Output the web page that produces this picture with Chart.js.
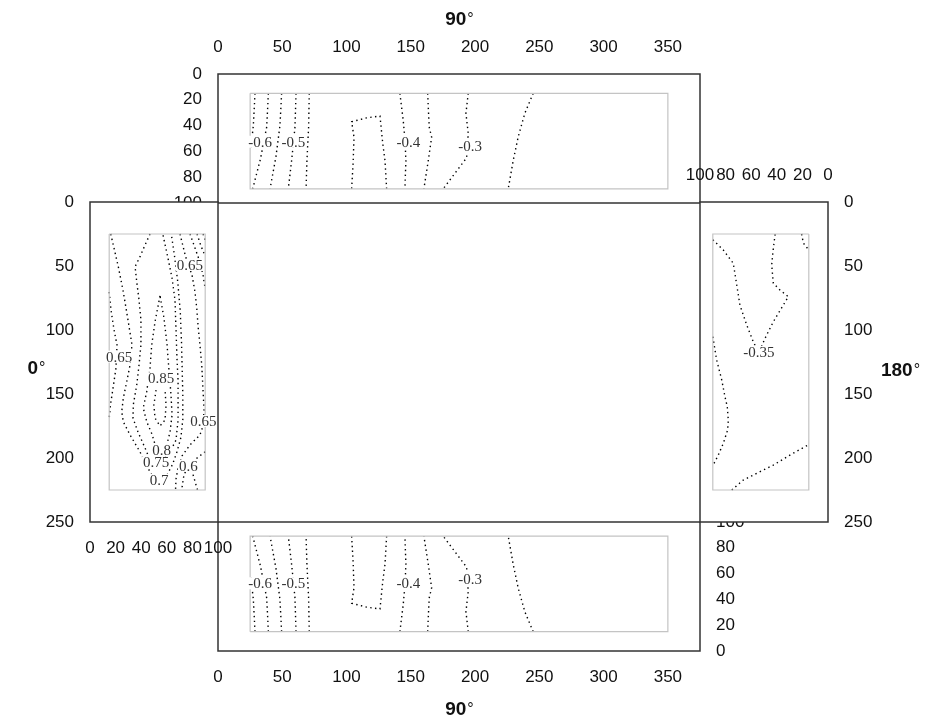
<!DOCTYPE html>
<html>
<head>
<meta charset="utf-8">
<script src="https://cdn.jsdelivr.net/npm/chart.js@4.4.0/dist/chart.umd.min.js"></script>
<style>
  body { margin: 0; background: #fff; }
  #wrap { position: relative; width: 930px; height: 724px; }
  #wrap canvas { position: absolute; left: 0; top: 0; }
</style>
</head>
<body>
<div id="wrap">
  <canvas id="topFace" width="930" height="724"></canvas>
  <canvas id="bottomFace" width="930" height="724"></canvas>
  <canvas id="windFace" width="930" height="724"></canvas>
  <canvas id="leeFace" width="930" height="724"></canvas>
</div>
<script>
// tick labels
const longTicks = [0, 50, 100, 150, 200, 250, 300, 350];
const depthTicks = [0, 20, 40, 60, 80, 100];
const sideTicks = [0, 50, 100, 150, 200, 250];

// 90 deg faces (same field on top and bottom, x = along face, y = height)
const faceRect = [[25, 15], [350, 15], [350, 89], [25, 89], [25, 15]];
const faceLines = [
  [[28.8, 15], [27.5, 40], [25.5, 58]],
  [[39.2, 15], [37.9, 41], [33, 66], [27, 89]],
  [[49.5, 15], [48.2, 40], [45.1, 64], [40.5, 89]],
  [[60.7, 15], [59.9, 41], [57.3, 67], [54.7, 89]],
  [[71, 15], [70.5, 41], [69.2, 67], [68.5, 89]],
  [[104, 89], [105.2, 67], [105.8, 49], [104, 37], [115.6, 34], [126, 32.6], [128.1, 53], [129.9, 67], [131.2, 89]],
  [[141.5, 15], [144.1, 36], [145.4, 50], [146.2, 67], [145.4, 89]],
  [[163.1, 15], [164.3, 41], [166.2, 49], [163.6, 67], [160.2, 89]],
  [[194.7, 15], [192.9, 30.5], [194.7, 46], [193.4, 65], [184.3, 77], [175.2, 89]],
  [[245.2, 15], [238.7, 30.5], [233.6, 48.6], [229.7, 67], [225.8, 89]]
];
const faceLabels = [['-0.6', 32.7, 52.5], ['-0.5', 58.6, 52.5], ['-0.4', 148.1, 52.5], ['-0.3', 196.1, 55.8]];

// 0 deg face (windward)
const windRect = [[15, 25], [90, 25], [90, 225], [15, 225], [15, 25]];
const windLines = [
  [[15, 70.3], [16.4, 84.4], [18.8, 100], [21.1, 111.7], [20.3, 129.7], [18, 145.3], [16, 158.6], [15, 168.8]],
  [[16.2, 25], [22.1, 50.5], [26, 70.1], [29.9, 93.5], [32.8, 111.7], [31.3, 127.3], [28.7, 140.4], [26, 153.4], [24.8, 163.8], [26, 171.6], [31.3, 182], [39.1, 195.3], [46.9, 210.9], [49.2, 214.8], [59.4, 214.8], [64.5, 205], [68, 195], [71, 184], [72.5, 170], [72.5, 150], [72, 130], [71.5, 110], [70.5, 85], [68.5, 62], [66, 42], [63.5, 25]],
  [[46.9, 25], [43, 33.6], [39.1, 42.7], [35.2, 50.5], [36.5, 62.3], [38.3, 76.6], [39.8, 92.2], [39.8, 111.7], [38.3, 127.3], [36.5, 143], [33.8, 158.6], [33.6, 168.8], [37.5, 179.7], [43, 192.2], [46.9, 201.6], [57, 201.6], [62.5, 195.3], [67.2, 185.9], [68.8, 170.3], [68.8, 154.7], [68.8, 139.1], [68, 123.4], [67.2, 100], [66.4, 76.6], [64.1, 59.4], [60.9, 43.8], [57.3, 27.1], [57, 25]],
  [[54.7, 73.4], [50.8, 93.5], [48.2, 111.7], [46.9, 129.7], [44.3, 148.2], [41.6, 160.9], [44.3, 171.6], [48.4, 181.3], [51.6, 192.2], [59.4, 192.2], [62.5, 179.7], [64.1, 166.4], [63.3, 150.8], [61.7, 131.3], [60.2, 111.7], [57.8, 90.6], [54.7, 73.4]],
  [[51.6, 146.9], [49.9, 158.6], [50.8, 168.8], [54.7, 175], [58.6, 170.3], [59.4, 158.6], [58.6, 146.9]],
  [[70.3, 25], [73.4, 37.5], [75, 43.8], [79.7, 57], [82, 70.1], [83.4, 83], [84.6, 98.7], [85.9, 111.7], [87.3, 127.3], [88.3, 146.9], [89.1, 162.5], [88.3, 175], [85.9, 182], [78.1, 189.8], [71.9, 198.4], [68.8, 207.8], [67.2, 216.4], [66.8, 225]],
  [[90, 195.1], [83.4, 200.2], [76.8, 206], [73.4, 213.3], [71.6, 225]],
  [[80.5, 213], [83.4, 223], [84, 225]],
  [[78.1, 25], [82, 35.9], [85.9, 46.9], [88.3, 57], [90, 68]],
  [[83.6, 25], [86.7, 34.4], [90, 42.2]],
  [[88.3, 25], [90, 29.7]]
];
const windLabels = [['0.65', 78.1, 49.2], ['0.65', 22.8, 120.8], ['0.85', 55.5, 137.7], ['0.65', 88.5, 171.1],
  ['0.8', 56, 193.8], ['0.75', 51.6, 203.4], ['0.6', 76.8, 206], ['0.7', 54.1, 217.2]];

// 180 deg face (leeward)
const leeRect = [[15, 25], [90, 25], [90, 225], [15, 225], [15, 25]];
const leeLines = [
  [[90, 29.5], [81.8, 37.5], [74, 47.9], [71.3, 64.8], [68.8, 80.5], [63.5, 96.1], [58.4, 109.1], [56, 114], [52, 113], [49.2, 106.5], [42.7, 93.5], [34.9, 80.5], [31, 74], [37.5, 68.8], [42.7, 63.5], [44, 49.2], [42.7, 36.2], [41.3, 25]],
  [[20.6, 25], [19.3, 32], [15, 37.5]],
  [[90, 105.2], [87, 123.4], [83, 139.1], [80.5, 152.1], [78.7, 159.9], [77.9, 170.3], [78.4, 178.1], [81.8, 188.5], [85.7, 197.7], [90, 206]],
  [[75.2, 225], [66.2, 217.2], [55.7, 212], [42.7, 205.5], [29.7, 197.7], [15, 189.5]]
];
const leeLabels = [['-0.35', 54, 117]];

const tickFont = { family: "'Liberation Sans', Arial, sans-serif", size: 17 };
const toPts = arr => arr.map(([x, y]) => ({ x, y }));

function axis(position, min, max, ticks, reverse) {
  return {
    type: 'linear', position, min, max, reverse: !!reverse,
    grid: { display: false, drawTicks: false },
    border: { display: false },
    ticks: { padding: 16, color: '#111', font: tickFont, autoSkip: false, maxRotation: 0, minRotation: 0 },
    afterBuildTicks: s => { s.ticks = ticks.map(v => ({ value: v })); },
    afterFit: s => { if (s.isHorizontal()) s.height = 50; else s.width = 50; }
  };
}

function drawTitle(ctx, text, cx, cy) {
  ctx.font = "bold 19px 'Liberation Sans', Arial, sans-serif";
  const w1 = ctx.measureText(text).width;
  ctx.font = "16px 'Liberation Sans', Arial, sans-serif";
  const w2 = ctx.measureText('\u00b0').width;
  const x0 = cx - (w1 + w2) / 2;
  ctx.fillStyle = '#111';
  ctx.textAlign = 'left';
  ctx.textBaseline = 'alphabetic';
  ctx.font = "bold 19px 'Liberation Sans', Arial, sans-serif";
  ctx.fillText(text, x0, cy + 7);
  ctx.font = "16px 'Liberation Sans', Arial, sans-serif";
  ctx.fillText('\u00b0', x0 + w1 + 1, cy + 6);
}

const frame = {
  id: 'frame',
  beforeDraw(chart) {
    const { ctx, chartArea: a } = chart;
    ctx.save();
    ctx.fillStyle = '#fff';
    ctx.fillRect(a.left, a.top, a.right - a.left, a.bottom - a.top);
    ctx.restore();
  },
  afterDatasetsDraw(chart) {
    const o = chart.options.plugins.frame;
    const { ctx, chartArea: a, scales } = chart;
    ctx.save();
    ctx.font = "15px 'Liberation Serif', 'Times New Roman', serif";
    ctx.textAlign = 'center';
    ctx.textBaseline = 'middle';
    o.labels.forEach(([t, x, y]) => {
      const px = scales.x.getPixelForValue(x);
      const py = scales.y.getPixelForValue(y);
      const w = ctx.measureText(t).width;
      ctx.fillStyle = '#fff';
      ctx.fillRect(px - w / 2 - 1, py - 6, w + 2, 12);
      ctx.fillStyle = '#333';
      ctx.fillText(t, px, py + 1);
    });
    ctx.strokeStyle = '#333';
    ctx.lineWidth = 1.5;
    ctx.strokeRect(a.left, a.top, a.right - a.left, a.bottom - a.top);
    const cx = (a.left + a.right) / 2, cy = (a.top + a.bottom) / 2;
    if (o.title === 'top') drawTitle(ctx, '90', cx, a.top - 56);
    if (o.title === 'bottom') drawTitle(ctx, '90', cx, a.bottom + 57);
    if (o.title === 'left') drawTitle(ctx, '0', a.left - 54, cy + 5);
    if (o.title === 'right') drawTitle(ctx, '180', a.right + 72, cy + 7);
    ctx.restore();
  }
};

function makePanel(id, rect, lines, labels, title, padding, xScale, yScale) {
  const datasets = [{ data: toPts(rect), borderColor: '#c4c4c4', borderWidth: 1.2, borderDash: [] }]
    .concat(lines.map(l => ({ data: toPts(l), borderColor: '#000', borderWidth: 1.4, borderDash: [1.4, 3.4] })))
    .map(d => Object.assign(d, { showLine: true, pointRadius: 0, fill: false, tension: 0 }));
  return new Chart(document.getElementById(id), {
    type: 'scatter',
    data: { datasets },
    options: {
      responsive: false,
      animation: false,
      events: [],
      layout: { padding },
      plugins: { legend: { display: false }, tooltip: { enabled: false }, frame: { labels, title } },
      scales: { x: xScale, y: yScale }
    },
    plugins: [frame]
  });
}

makePanel('topFace', faceRect, faceLines, faceLabels, 'top',
  { left: 168, right: 230, top: 24, bottom: 521 },
  axis('top', 0, 375, longTicks), axis('left', 0, 100, depthTicks, true));

makePanel('bottomFace', faceRect, faceLines, faceLabels, 'bottom',
  { left: 218, right: 180, top: 522, bottom: 23 },
  axis('bottom', 0, 375, longTicks), axis('right', 0, 100, depthTicks));

makePanel('windFace', windRect, windLines, windLabels, 'left',
  { left: 40, right: 712, top: 202, bottom: 152 },
  axis('bottom', 0, 100, depthTicks), axis('left', 0, 250, sideTicks, true));

makePanel('leeFace', leeRect, leeLines, leeLabels, 'right',
  { left: 700, right: 52, top: 152, bottom: 202 },
  axis('top', 0, 100, depthTicks, true), axis('right', 0, 250, sideTicks, true));
</script>
</body>
</html>
